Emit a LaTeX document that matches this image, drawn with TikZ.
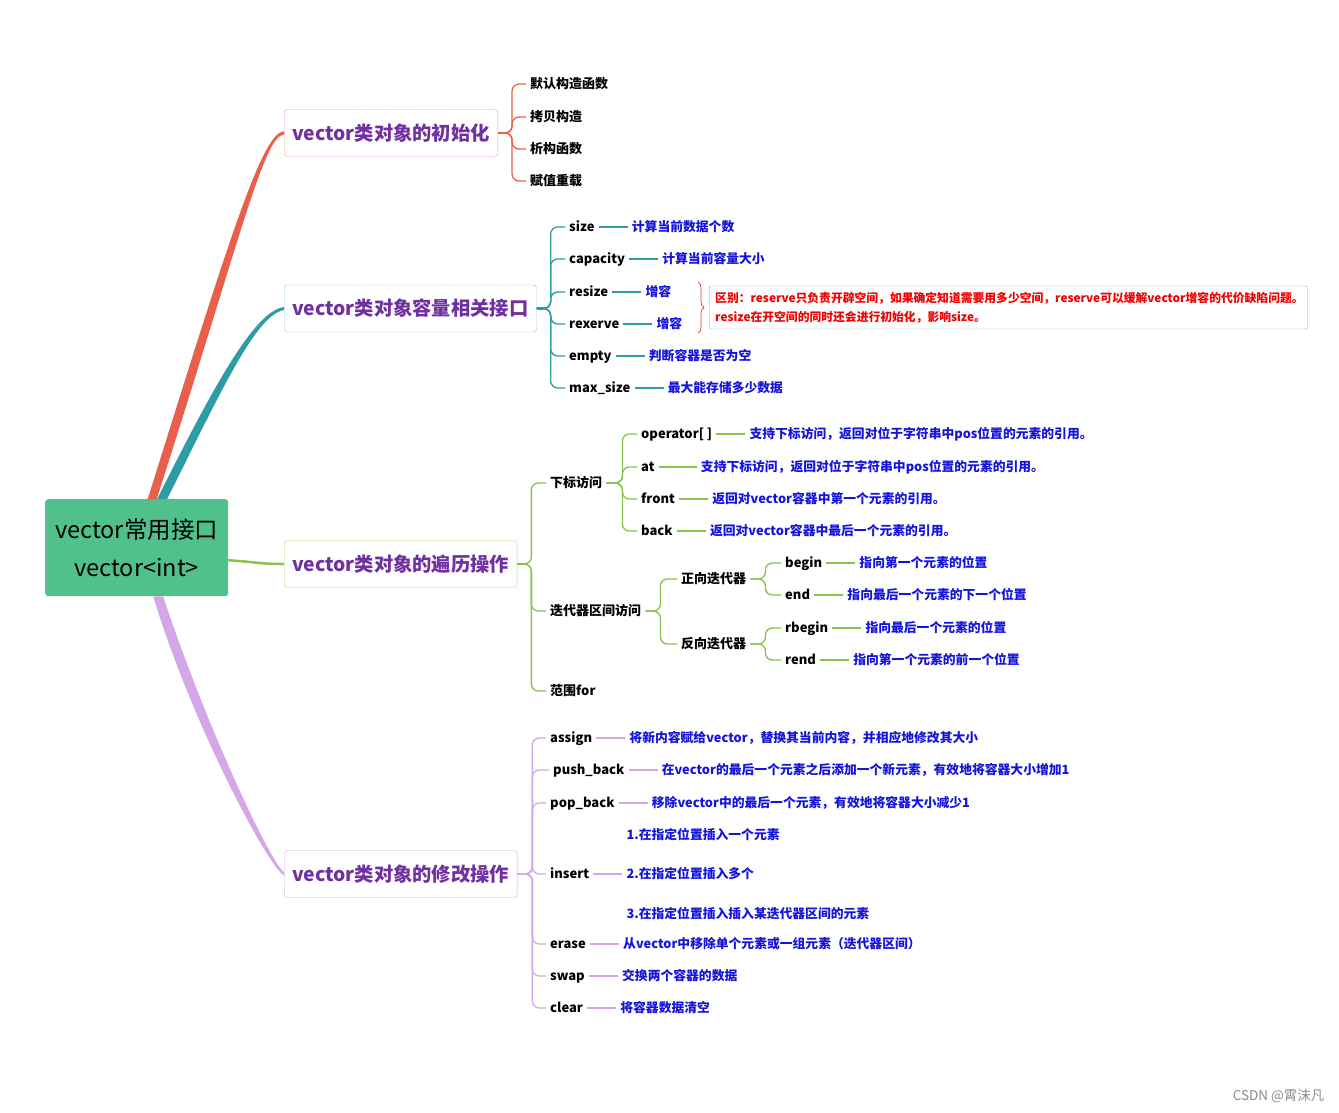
\documentclass[tikz,border=0pt]{standalone}
\usepackage{fontspec}
\setmainfont{Noto Sans CJK SC}
\usetikzlibrary{positioning,decorations.pathreplacing}

\definecolor{rootgreen}{RGB}{80,193,138}
\definecolor{initred}{RGB}{232,96,76}
\definecolor{capteal}{RGB}{46,156,166}
\definecolor{travgreen}{RGB}{139,195,74}
\definecolor{modlav}{RGB}{213,166,232}
\definecolor{titlepurple}{RGB}{112,48,160}
\definecolor{descblue}{RGB}{20,20,220}
\definecolor{notered}{RGB}{240,0,0}

\begin{document}
\begin{tikzpicture}[
  x=1pt,y=-1pt,
  node distance=5mm and 29pt,
  root/.style={fill=rootgreen,rounded corners=3pt,minimum width=183pt,minimum height=97pt,
               align=center,font=\fontsize{23.5}{38}\selectfont},
  topic/.style={draw=#1,fill=white,rounded corners=3pt,minimum height=47pt,inner xsep=8pt,
                anchor=west,text=titlepurple,font=\bfseries\fontsize{19.3}{24}\selectfont,
                text height=17pt,text depth=2.7pt},
  txt/.style={inner sep=4pt,anchor=west,font=\bfseries\fontsize{13}{16}\selectfont},
  leaf/.style={txt,text height=11.4pt,text depth=1.8pt},
  desc/.style={leaf,text=descblue,font=\bfseries\fontsize{12.8}{16}\selectfont},
  notebox/.style={draw=capteal!70,rounded corners=2pt,inner xsep=6pt,text width=586pt,
                  minimum height=43pt,align=left,text=notered,
                  font=\bfseries\fontsize{11.8}{19}\selectfont},
  twig/.style={draw=#1,line width=1.3pt,rounded corners=7pt},
  stub/.style={draw=#1,line width=2.6pt},
  link/.style={draw=#1,line width=1.2pt}
]
\path[use as bounding box,fill=white] (0,0) rectangle (1339,1112);

% root and the four topics
\node[root,anchor=north west] (root) at (45,499) {vector常用接口\\vector<int>};
\node[topic=initred!60]   (init)   at (284,133)   {vector类对象的初始化};
\node[topic=capteal!50]   (cap)    at (284,308.5) {vector类对象容量相关接口};
\node[topic=travgreen!70] (trav)   at (284,564)   {vector类对象的遍历操作};
\node[topic=modlav]       (modify) at (284,874)   {vector类对象的修改操作};

% main limbs
\fill[initred] ([xshift=11pt]root.north) .. controls +(80,-255) and +(-22,0) .. ([yshift=1.5pt]init.west)
  -- ([yshift=-1.5pt]init.west) .. controls +(-20,0) and +(82,-255) .. ([xshift=20pt]root.north) -- cycle;
\fill[capteal] ([xshift=20.5pt]root.north) .. controls +(55,-110) and +(-30,4) .. ([yshift=1.5pt]cap.west)
  -- ([yshift=-1.5pt]cap.west) .. controls +(-28,5) and +(55,-110) .. ([xshift=30.5pt]root.north) -- cycle;
\draw[travgreen,line width=2.5pt] ([yshift=-12.5pt]root.east) .. controls +(30,2) and +(-25,0) .. (trav.west);
\fill[modlav] ([xshift=16.5pt]root.south) .. controls +(38,125) and +(-18,-12) .. ([yshift=-1.5pt]modify.west)
  -- ([yshift=1.5pt]modify.west) .. controls +(-16,-14) and +(40,122) .. ([xshift=26.5pt]root.south) -- cycle;

% initialisation
\node[leaf] (ctor)     at (526,84)  {默认构造函数};
\node[leaf] (copyc)    at (526,117) {拷贝构造};
\node[leaf] (dtor)     at (526,149) {析构函数};
\node[leaf] (assignop) at (526,181) {赋值重载};
\coordinate (initJ) at ([xshift=14pt]init.east);
\draw[stub=initred] (init.east) -- ([xshift=-4pt]initJ);
\draw[twig=initred] (init.east) -- (initJ) |- (ctor.west);
\draw[twig=initred] (init.east) -- (initJ) |- (copyc.west);
\draw[twig=initred] (init.east) -- (initJ) |- (dtor.west);
\draw[twig=initred] (init.east) -- (initJ) |- (assignop.west);

% capacity
\node[leaf] (sizeL)    at (565,227) {size};
\node[leaf] (capaL)    at (565,259) {capacity};
\node[leaf] (resizeL)  at (565,292) {resize};
\node[leaf] (reserveL) at (565,324) {rexerve};
\node[leaf] (emptyL)   at (565,356) {empty};
\node[leaf] (maxL)     at (565,388) {max\_size};
\node[desc,right=of sizeL]    (sizeD)    {计算当前数据个数};
\node[desc,right=of capaL]    (capaD)    {计算当前容量大小};
\node[desc,right=of resizeL]  (resizeD)  {增容};
\node[desc,right=of reserveL] (reserveD) {增容};
\node[desc,right=of emptyL]   (emptyD)   {判断容器是否为空};
\node[desc,right=of maxL]     (maxD)     {最大能存储多少数据};
\coordinate (capJ) at ([xshift=14pt]cap.east);
\draw[stub=capteal] (cap.east) -- ([xshift=-4pt]capJ);
\draw[twig=capteal] (cap.east) -- (capJ) |- (sizeL.west);
\draw[twig=capteal] (cap.east) -- (capJ) |- (capaL.west);
\draw[twig=capteal] (cap.east) -- (capJ) |- (resizeL.west);
\draw[twig=capteal] (cap.east) -- (capJ) |- (reserveL.west);
\draw[twig=capteal] (cap.east) -- (capJ) |- (emptyL.west);
\draw[twig=capteal] (cap.east) -- (capJ) |- (maxL.west);
\draw[link=capteal] (sizeL) -- (sizeD);
\draw[link=capteal] (capaL) -- (capaD);
\draw[link=capteal] (resizeL) -- (resizeD);
\draw[link=capteal] (reserveL) -- (reserveD);
\draw[link=capteal] (emptyL) -- (emptyD);
\draw[link=capteal] (maxL) -- (maxD);

\node[notebox,anchor=west] (note) at (709,307.5)
  {区别：reserve只负责开辟空间，如果确定知道需要用多少空间，reserve可以缓解vector增容的代价缺陷问题。\\
   resize在开空间的同时还会进行初始化，影响size。};
\draw[notered!80,line width=0.7pt,decorate,decoration={brace,amplitude=6pt}]
  ([xshift=-11pt,yshift=4pt]note.north west) -- ([xshift=-11pt,yshift=-4pt]note.south west);

% traversal
\node[leaf] (idx)    at (546,483) {下标访问};
\node[leaf] (iter)   at (546,611) {迭代器区间访问};
\node[leaf] (rangeL) at (546,691) {范围for};
\coordinate (travJ) at ([xshift=14pt]trav.east);
\draw[stub=travgreen] (trav.east) -- ([xshift=-4pt]travJ);
\draw[twig=travgreen] (trav.east) -- (travJ) |- (idx.west);
\draw[twig=travgreen] (trav.east) -- (travJ) |- (iter.west);
\draw[twig=travgreen] (trav.east) -- (travJ) |- (rangeL.west);

\node[leaf] (opL)    at (637,434) {operator[ ]};
\node[leaf] (atL)    at (637,467) {at};
\node[leaf] (frontL) at (637,499) {front};
\node[leaf] (backL)  at (637,531) {back};
\node[desc,right=of opL]      (opD)    {支持下标访问，返回对位于字符串中pos位置的元素的引用。};
\node[desc,right=38pt of atL] (atD)    {支持下标访问，返回对位于字符串中pos位置的元素的引用。};
\node[desc,right=of frontL]   (frontD) {返回对vector容器中第一个元素的引用。};
\node[desc,right=of backL]    (backD)  {返回对vector容器中最后一个元素的引用。};
\coordinate (idxJ) at ([xshift=16pt]idx.east);
\draw[twig=travgreen] (idx.east) -- (idxJ) |- (opL.west);
\draw[twig=travgreen] (idx.east) -- (idxJ) |- (atL.west);
\draw[twig=travgreen] (idx.east) -- (idxJ) |- (frontL.west);
\draw[twig=travgreen] (idx.east) -- (idxJ) |- (backL.west);
\draw[link=travgreen] (opL) -- (opD);
\draw[link=travgreen] (atL) -- (atD);
\draw[link=travgreen] (frontL) -- (frontD);
\draw[link=travgreen] (backL) -- (backD);

\node[leaf] (fwd) at (677,579) {正向迭代器};
\node[leaf] (rev) at (677,644) {反向迭代器};
\coordinate (iterJ) at ([xshift=15pt]iter.east);
\draw[twig=travgreen] (iter.east) -- (iterJ) |- (fwd.west);
\draw[twig=travgreen] (iter.east) -- (iterJ) |- (rev.west);

\node[leaf] (beginL)  at (781,563) {begin};
\node[leaf] (endL)    at (781,595) {end};
\node[leaf] (rbeginL) at (781,628) {rbegin};
\node[leaf] (rendL)   at (781,660) {rend};
\node[desc,right=of beginL]  (beginD)  {指向第一个元素的位置};
\node[desc,right=of endL]    (endD)    {指向最后一个元素的下一个位置};
\node[desc,right=of rbeginL] (rbeginD) {指向最后一个元素的位置};
\node[desc,right=of rendL]   (rendD)   {指向第一个元素的前一个位置};
\coordinate (fwdJ) at ([xshift=15pt]fwd.east);
\coordinate (revJ) at ([xshift=15pt]rev.east);
\draw[twig=travgreen] (fwd.east) -- (fwdJ) |- (beginL.west);
\draw[twig=travgreen] (fwd.east) -- (fwdJ) |- (endL.west);
\draw[twig=travgreen] (rev.east) -- (revJ) |- (rbeginL.west);
\draw[twig=travgreen] (rev.east) -- (revJ) |- (rendL.west);
\draw[link=travgreen] (beginL) -- (beginD);
\draw[link=travgreen] (endL) -- (endD);
\draw[link=travgreen] (rbeginL) -- (rbeginD);
\draw[link=travgreen] (rendL) -- (rendD);

% modification
\node[leaf] (assignL) at (546,738)  {assign};
\node[leaf] (pushL)   at (549,770)  {push\_back};
\node[leaf] (popL)    at (546,803)  {pop\_back};
\node[leaf] (insertL) at (546,874)  {insert};
\node[leaf] (eraseL)  at (546,944)  {erase};
\node[leaf] (swapL)   at (546,976)  {swap};
\node[leaf] (clearL)  at (546,1008) {clear};
\node[desc,right=of assignL] (assignD) {将新内容赋给vector，替换其当前内容，并相应地修改其大小};
\node[desc,right=of pushL]   (pushD)   {在vector的最后一个元素之后添加一个新元素，有效地将容器大小增加1};
\node[desc,right=of popL]    (popD)    {移除vector中的最后一个元素，有效地将容器大小减少1};
\node[txt,text=descblue,align=left,font=\bfseries\fontsize{12.8}{39.5}\selectfont,right=of insertL] (insertD)
  {1.在指定位置插入一个元素\\2.在指定位置插入多个\\3.在指定位置插入插入某迭代器区间的元素};
\node[desc,right=of eraseL]  (eraseD)  {从vector中移除单个元素或一组元素（迭代器区间）};
\node[desc,right=of swapL]   (swapD)   {交换两个容器的数据};
\node[desc,right=of clearL]  (clearD)  {将容器数据清空};
\coordinate (modJ) at ([xshift=15pt]modify.east);
\draw[stub=modlav] (modify.east) -- ([xshift=-4pt]modJ);
\draw[twig=modlav] (modify.east) -- (modJ) |- (assignL.west);
\draw[twig=modlav] (modify.east) -- (modJ) |- (pushL.west);
\draw[twig=modlav] (modify.east) -- (modJ) |- (popL.west);
\draw[twig=modlav] (modify.east) -- (modJ) |- (insertL.west);
\draw[twig=modlav] (modify.east) -- (modJ) |- (eraseL.west);
\draw[twig=modlav] (modify.east) -- (modJ) |- (swapL.west);
\draw[twig=modlav] (modify.east) -- (modJ) |- (clearL.west);
\draw[link=modlav] (assignL) -- (assignD);
\draw[link=modlav] (pushL) -- (pushD);
\draw[link=modlav] (popL) -- (popD);
\draw[link=modlav] (insertL) -- (insertD);
\draw[link=modlav] (eraseL) -- (eraseD);
\draw[link=modlav] (swapL) -- (swapD);
\draw[link=modlav] (clearL) -- (clearD);

\node[anchor=east,text=black!45,font=\fontsize{13.5}{16}\selectfont] (mark) at (1328,1096) {CSDN @霄沫凡};
\end{tikzpicture}
\end{document}
